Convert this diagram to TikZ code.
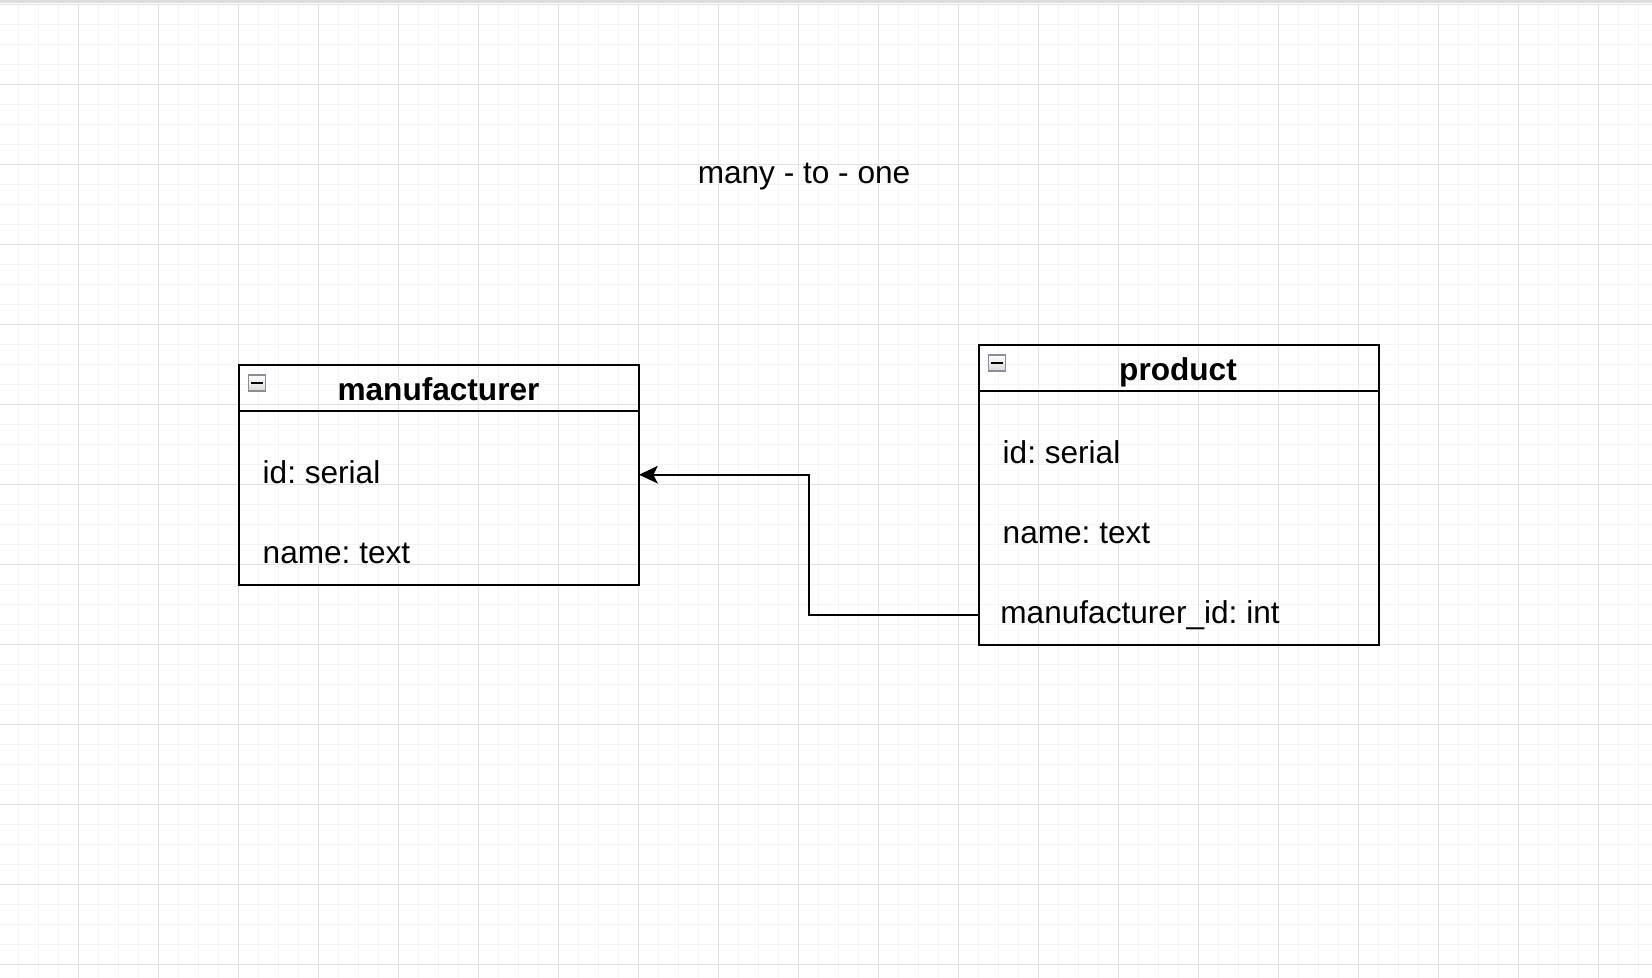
\documentclass[tikz,border=0pt]{standalone}
\usepackage{fontspec}
\setmainfont{Liberation Sans}
\usetikzlibrary{arrows.meta,calc}
\definecolor{gridmajor}{HTML}{E2E2E2}
\definecolor{gridminor}{HTML}{F4F4F4}
\definecolor{topbar}{HTML}{DDDDDD}
\definecolor{iconborder}{HTML}{8A8E9C}
\frenchspacing
\begin{document}
\begin{tikzpicture}[x=0.5pt,y=-0.5pt,
  tablebox/.style={draw=black, line width=1pt, inner sep=0pt, outer sep=0pt, anchor=north west},
  divider/.style={draw=black, line width=1pt},
  field/.style={anchor=base west, inner sep=0pt, font=\fontsize{15.8}{19}\selectfont},
  header/.style={anchor=base, inner sep=0pt, font=\fontsize{15.8}{19}\selectfont\bfseries},
  title/.style={anchor=base, inner sep=0pt, font=\fontsize{15.8}{19}\selectfont},
  fk/.style={draw=black, line width=1pt, -{Stealth[length=9.4pt,width=8.8pt,inset=2.2pt]}},
  collapse/.style={draw=iconborder, line width=0.6pt, top color=white, bottom color=gray!30,
    minimum width=8.7pt, minimum height=8pt, inner sep=0pt, outer sep=0pt, anchor=north west},
  dash line/.style={draw=black, line width=1pt},
  minorgrid/.style={draw=gridminor, line width=0.5pt},
  majorgrid/.style={draw=gridmajor, line width=0.7pt}
]
\useasboundingbox (0,0) rectangle (1652,978);
\fill[white] (0,0) rectangle (1652,978);
% grid
\foreach \k in {0,...,82} {\draw[minorgrid] (18.7+20*\k,5) -- (18.7+20*\k,978);}
\foreach \k in {0,...,49} {\draw[minorgrid] (0,4.3+20*\k) -- (1652,4.3+20*\k);}
\foreach \k in {0,...,20} {\draw[majorgrid] (78.7+80*\k,5) -- (78.7+80*\k,978);}
\foreach \k in {0,...,12} {\draw[majorgrid] (0,4.3+80*\k) -- (1652,4.3+80*\k);}
\fill[topbar] (0,0) rectangle (1652,3.5);

% title
\node[title] (title) at (804,183.3) {many - to - one};

% manufacturer table
\node[tablebox, minimum width=200.25pt, minimum height=110pt] (man) at (238.5,365) {};
\draw[divider] (man.west |- 0,411) -- (man.east |- 0,411);
\node[collapse] (mancol) at (248.3,375) {};
\draw[dash line] ($(mancol.center)+(-6,0)$) -- ($(mancol.center)+(6.3,0)$);
\node[header] (manhead) at (438.5,400) {manufacturer};
\node[field] (manid) at (262.3,483.3) {id: serial};
\node[field] (manname) at (262.3,563.3) {name: text};

% product table
\node[tablebox, minimum width=200.25pt, minimum height=150pt] (prod) at (978.5,345) {};
\draw[divider] (prod.west |- 0,391) -- (prod.east |- 0,391);
\node[collapse] (prodcol) at (988.3,355) {};
\draw[dash line] ($(prodcol.center)+(-6,0)$) -- ($(prodcol.center)+(6.3,0)$);
\node[header] (prodhead) at (1178,380) {product};
\node[field] (prodid) at (1002.3,463.3) {id: serial};
\node[field] (prodname) at (1002.3,543.3) {name: text};
\node[field] (prodfk) at (1000,623.3) {manufacturer\_id: int};

% connector
\coordinate (fkport) at (prod.west |- 0,614.7);
\coordinate (pkport) at (man.east |- 0,474.7);
\draw[fk] (fkport) -| ($(fkport)!0.5!(pkport)$) |- (pkport);
\end{tikzpicture}
\end{document}
